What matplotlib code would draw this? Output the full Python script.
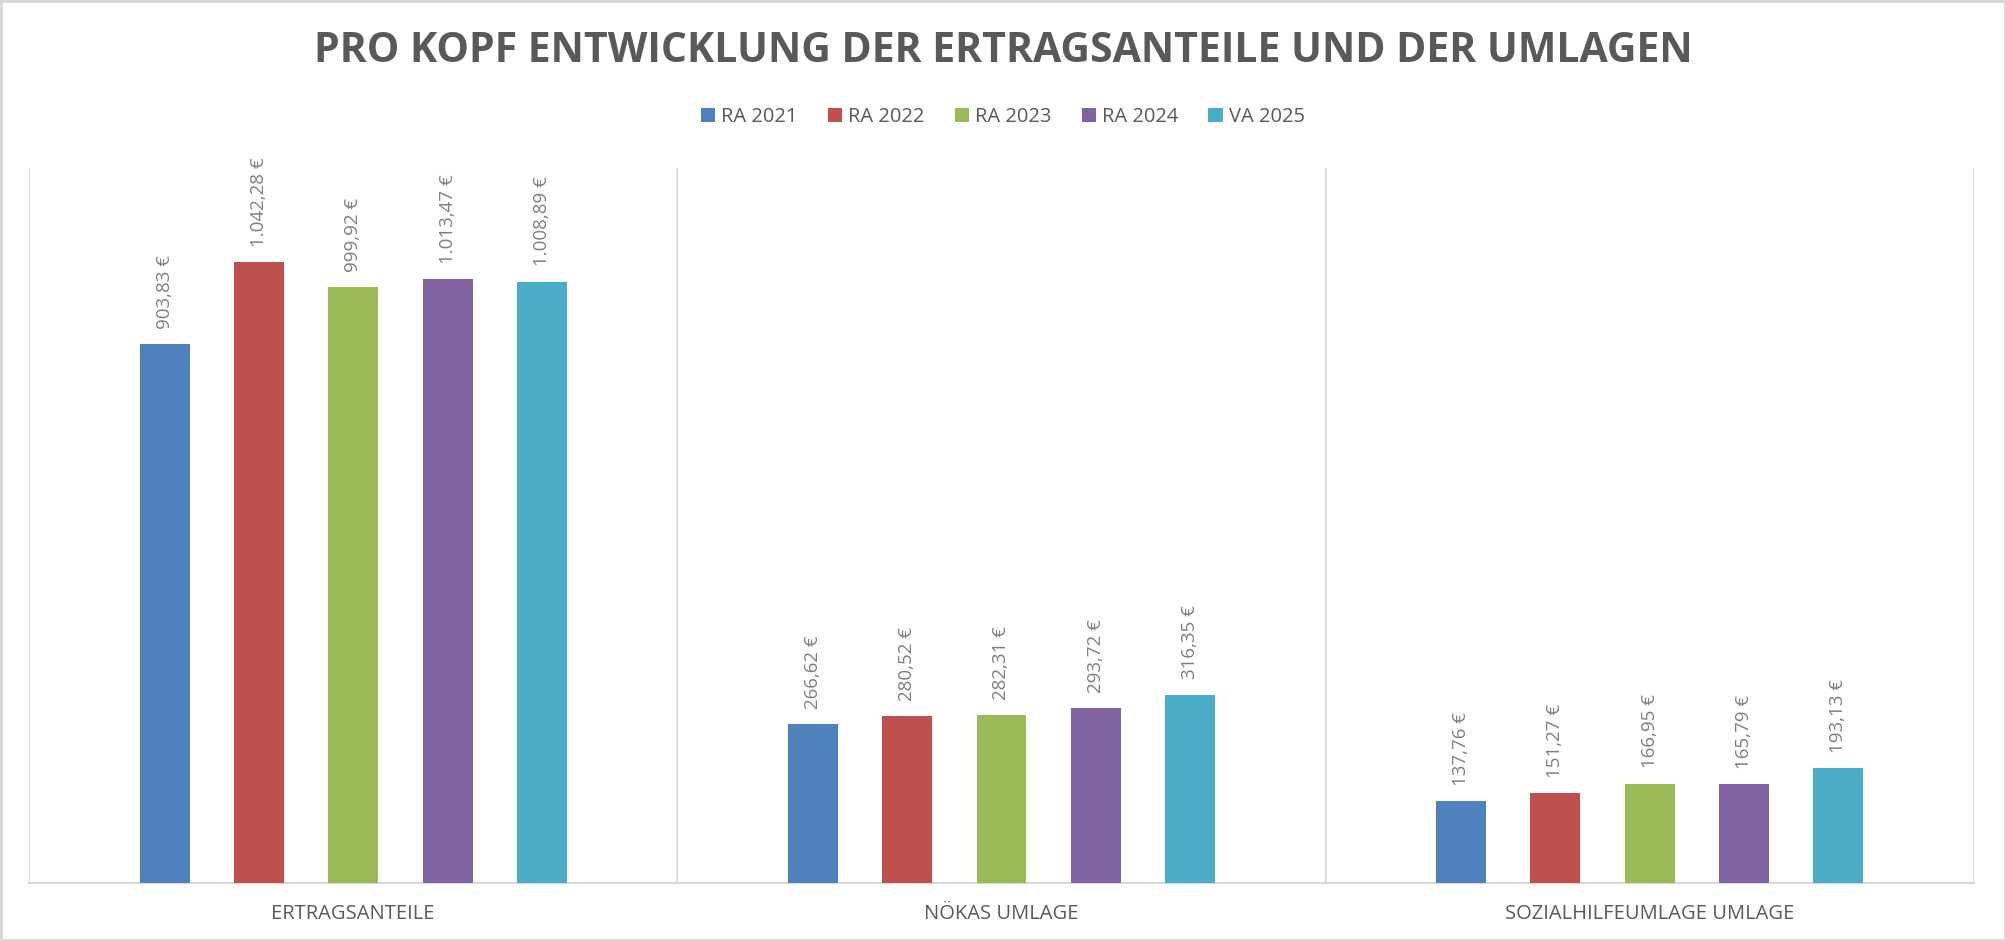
import numpy as np
import matplotlib
matplotlib.use("Agg")
from matplotlib import pyplot as plt

categories = ["ERTRAGSANTEILE", "NÖKAS UMLAGE", "SOZIALHILFEUMLAGE UMLAGE"]
series = ["RA 2021", "RA 2022", "RA 2023", "RA 2024", "VA 2025"]
values = [
    [903.83, 266.62, 137.76],   # RA 2021
    [1042.28, 280.52, 151.27],  # RA 2022
    [999.92, 282.31, 166.95],   # RA 2023
    [1013.47, 293.72, 165.79],  # RA 2024
    [1008.89, 316.35, 193.13],  # VA 2025
]
colors = ["#4F81BD", "#C0504D", "#9BBB59", "#8064A2", "#4BACC6"]

def euro(v):
    # german number format: 1.042,28 €
    s = f"{v:,.2f}".replace(",", "X").replace(".", ",").replace("X", ".")
    return s + " €"

plt.rcParams['font.family'] = ['Open Sans', 'DejaVu Sans']

fig = plt.figure(figsize=(20.06, 9.41), dpi=100)
fig.patch.set_edgecolor("#D9D9D9")
fig.patch.set_linewidth(2.5)
ax = fig.add_axes([0.0145, 0.0616, 0.9695, 0.76])

x = np.arange(len(categories))
step = 0.1455
width = 0.077
for i, (name, vals) in enumerate(zip(series, values)):
    pos = x + (i - 2) * step
    ax.bar(pos, vals, width, color=colors[i], label=name, zorder=3)
    for p, v in zip(pos, vals):
        ax.annotate(euro(v), (p, v), xytext=(0, 11), textcoords="offset points",
                    rotation=90, ha="center", va="bottom", fontsize=13.5,
                    color="#7F7F7F")

ax.set_xlim(-0.5, 2.5)
ax.set_ylim(0, 1200)
ax.vlines([-0.5, 0.5, 1.5, 2.5], 0, 1200, color="#D9D9D9", lw=1.3, zorder=1)
for s in ["top", "left", "right"]:
    ax.spines[s].set_visible(False)
ax.spines["bottom"].set_color("#D9D9D9")
ax.spines["bottom"].set_linewidth(1.5)
ax.set_yticks([])
ax.set_xticks(x)
ax.set_xticklabels(categories, fontsize=14.5, color="#595959")
ax.tick_params(axis="x", length=0, pad=15)

fig.text(0.5, 0.945, "PRO KOPF ENTWICKLUNG DER ERTRAGSANTEILE UND DER UMLAGEN",
         ha="center", va="center", fontsize=29.5, fontweight="bold", color="#595959")

fig.legend(loc="center", bbox_to_anchor=(0.5, 0.876), ncol=5, frameon=False,
           fontsize=14.5, handlelength=0.7, handleheight=0.7, handletextpad=0.3,
           columnspacing=1.5, labelcolor="#595959")

fig.savefig("out.png", dpi=100)
